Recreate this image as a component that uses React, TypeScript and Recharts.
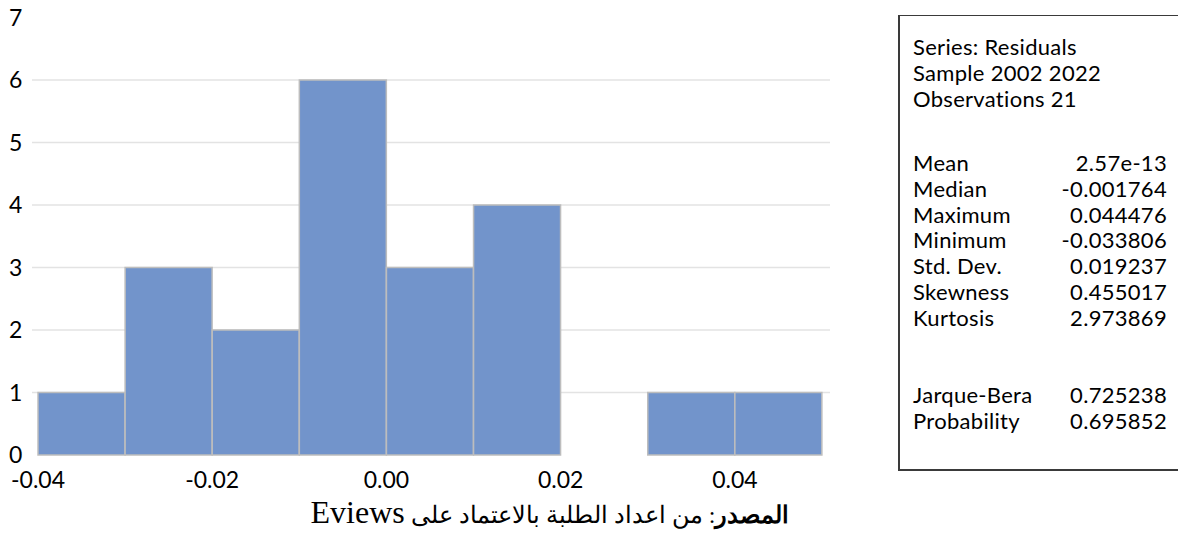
import React from 'react';
import { BarChart, Bar, XAxis, YAxis, CartesianGrid } from 'recharts';

// histogram of residuals, bins of width 0.01
const binCenters = [-0.035, -0.025, -0.015, -0.005, 0.005, 0.015, 0.025, 0.035, 0.045];
const binCounts = [1, 3, 2, 6, 3, 4, 0, 1, 1];
const xTicks = [-0.04, -0.02, 0, 0.02, 0.04];
const yTicks = [0, 1, 2, 3, 4, 5, 6, 7];
const gridValues = [1, 2, 3, 4, 5, 6];

const headerLines = ['Series: Residuals', 'Sample 2002 2022', 'Observations 21'];
const statNames = ['Mean', 'Median', 'Maximum', 'Minimum', 'Std. Dev.', 'Skewness', 'Kurtosis'];
const statValues = ['2.57e-13', '-0.001764', '0.044476', '-0.033806', '0.019237', '0.455017', '2.973869'];
const testNames = ['Jarque-Bera', 'Probability'];
const testValues = ['0.725238', '0.695852'];

const data = binCenters.map((c, i) => ({ mid: c, count: binCounts[i] }));

const FONT = 'Lato, "Open Sans", sans-serif';

const YTick = (props: any) => {
  const { y, payload } = props;
  return (
    <text x={9} y={y} dy={8} fontSize={23} fill="#000" fontFamily={FONT} textAnchor="start">
      {payload.value}
    </text>
  );
};

const XTick = (props: any) => {
  const { x, y, payload } = props;
  return (
    <text x={x} y={y} dy={25} fontSize={23} fill="#000" fontFamily={FONT} textAnchor="middle">
      {payload.value.toFixed(2)}
    </text>
  );
};

const Row = ({ name, value }: { name: string; value: string }) => (
  <div style={{ display: 'flex', height: 25.8, lineHeight: '25.8px', whiteSpace: 'nowrap' }}>
    <span style={{ width: 120 }}>{name}</span>
    <span style={{ width: 134, textAlign: 'right' }}>{value}</span>
  </div>
);

export default function App() {
  return (
    <div style={{ position: 'absolute', left: 0, top: 0, width: 1178, height: 540, background: '#fff', overflow: 'hidden' }}>
      <BarChart
        width={880}
        height={500}
        data={data}
        margin={{ top: 17.5, right: 50, bottom: 15, left: 0 }}
        barCategoryGap={0}
        barGap={0}
      >
        <CartesianGrid
          vertical={false}
          horizontalValues={gridValues}
          stroke="#E3E3E3"
          strokeWidth={1.5}
        />
        <XAxis
          dataKey="mid"
          type="number"
          domain={[-0.04069, 0.05092]}
          allowDataOverflow
          ticks={xTicks}
          tick={<XTick />}
          tickLine={false}
          axisLine={false}
          height={30}
          interval={0}
        />
        <YAxis
          type="number"
          domain={[0, 7]}
          ticks={yTicks}
          tick={<YTick />}
          tickLine={false}
          axisLine={false}
          width={32}
          interval={0}
        />
        <Bar dataKey="count" fill="#7294CB" stroke="#BDBDBD" strokeWidth={1.5} isAnimationActive={false} />
      </BarChart>

      <div
        style={{
          position: 'absolute',
          left: 898,
          top: 15,
          width: 300,
          height: 456,
          borderLeft: '2px solid #3a3a3a',
          borderTop: '1.5px solid #3a3a3a',
          borderBottom: '2px solid #3a3a3a',
          fontFamily: FONT,
          fontSize: 22,
          letterSpacing: 0.3,
          color: '#000',
          paddingLeft: 13,
          paddingTop: 18,
          boxSizing: 'border-box',
        }}
      >
        {headerLines.map((l) => (
          <div key={l} style={{ height: 25.8, lineHeight: '25.8px', whiteSpace: 'nowrap' }}>{l}</div>
        ))}
        <div style={{ height: 38.7 }} />
        {statNames.map((n, i) => (
          <Row key={n} name={n} value={statValues[i]} />
        ))}
        <div style={{ height: 51.6 }} />
        {testNames.map((n, i) => (
          <Row key={n} name={n} value={testValues[i]} />
        ))}
      </div>

      <div
        dir="rtl"
        style={{
          position: 'absolute',
          left: 250,
          width: 600,
          top: 492,
          textAlign: 'center',
          fontFamily: '"Times New Roman", "Liberation Serif", serif',
          fontSize: 24,
          lineHeight: '40px',
          color: '#000',
          whiteSpace: 'nowrap',
        }}
      >
        <b>المصدر</b>: من اعداد الطلبة بالاعتماد على <span style={{ fontSize: 32 }}>Eviews</span>
      </div>
    </div>
  );
}
